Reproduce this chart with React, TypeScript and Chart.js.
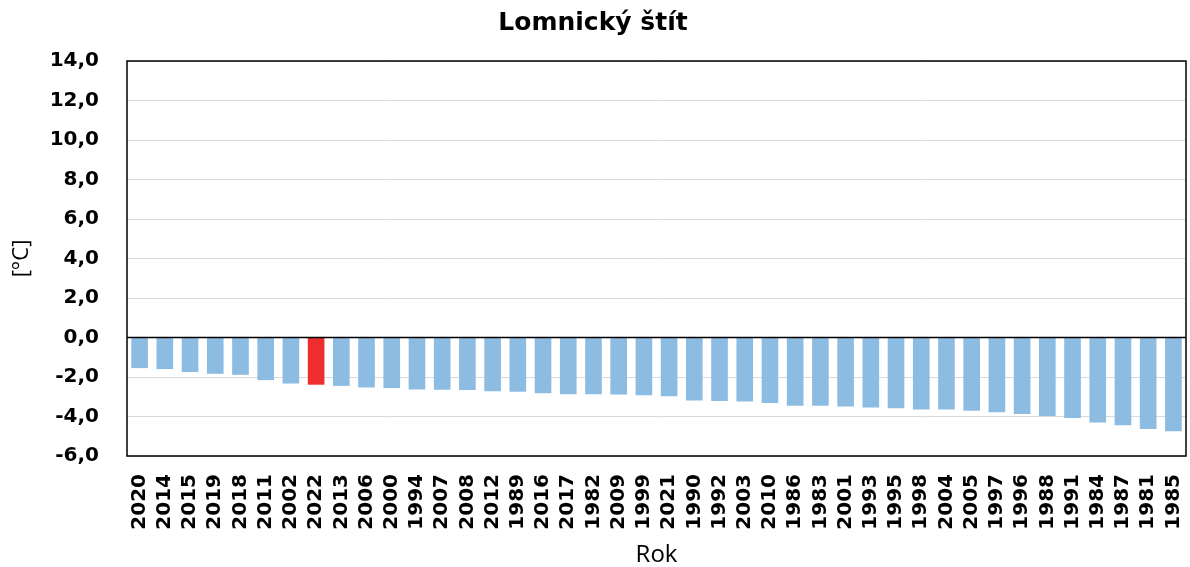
import React, { useEffect, useRef } from "react";
import { Chart, registerables } from "chart.js";

Chart.register(...registerables);

const chartTitle = "Lomnický štít";
const xAxisTitle = "Rok";
const yAxisTitle = "[°C]";

const years = [
  "2020", "2014", "2015", "2019", "2018", "2011", "2002", "2022", "2013", "2006",
  "2000", "1994", "2007", "2008", "2012", "1989", "2016", "2017", "1982", "2009",
  "1999", "2021", "1990", "1992", "2003", "2010", "1986", "1983", "2001", "1993",
  "1995", "1998", "2004", "2005", "1997", "1996", "1988", "1991", "1984", "1987",
  "1981", "1985",
];

const temperatures = [
  -1.55, -1.6, -1.75, -1.84, -1.89, -2.16, -2.33, -2.39, -2.45, -2.53,
  -2.56, -2.63, -2.65, -2.66, -2.72, -2.75, -2.82, -2.87, -2.87, -2.88,
  -2.92, -2.97, -3.19, -3.21, -3.24, -3.32, -3.46, -3.46, -3.49, -3.54,
  -3.58, -3.65, -3.65, -3.71, -3.78, -3.87, -3.98, -4.07, -4.31, -4.44,
  -4.63, -4.75,
];

const highlightYear = "2022";
const yMin = -6;
const yMax = 14;
const yStep = 2;

const BLUE = "#8DBCE3";
const RED = "#EE2E2E";

const framePlugin = {
  id: "frame",
  afterDatasetsDraw(chart: any) {
    const { ctx, chartArea, scales } = chart;
    ctx.save();
    const y0 = scales.y.getPixelForValue(0);
    ctx.strokeStyle = "#000";
    ctx.lineWidth = 1.5;
    ctx.beginPath();
    ctx.moveTo(chartArea.left, y0);
    ctx.lineTo(chartArea.right, y0);
    ctx.stroke();
    ctx.strokeRect(
      chartArea.left,
      chartArea.top,
      chartArea.right - chartArea.left,
      chartArea.bottom - chartArea.top
    );
    ctx.restore();
  },
};

export default function App() {
  const canvasRef = useRef<HTMLCanvasElement | null>(null);

  useEffect(() => {
    if (!canvasRef.current) return;
    const chart = new Chart(canvasRef.current, {
      type: "bar",
      data: {
        labels: years,
        datasets: [
          {
            data: temperatures,
            backgroundColor: years.map((y) => (y === highlightYear ? RED : BLUE)),
            borderWidth: 0,
            barPercentage: 0.66,
            categoryPercentage: 1,
          },
        ],
      },
      options: {
        animation: false,
        responsive: false,
        maintainAspectRatio: false,
        layout: { padding: { left: 0, right: 4, top: 0, bottom: 0 } },
        plugins: {
          legend: { display: false },
          tooltip: { enabled: false },
          title: {
            display: true,
            text: chartTitle,
            color: "#000",
            font: { family: "DejaVu Sans", size: 25, weight: "bold", lineHeight: 1.2 },
            padding: { top: 8, bottom: 23 },
          },
        },
        scales: {
          x: {
            grid: { display: false, drawTicks: false },
            border: { display: false },
            ticks: {
              autoSkip: false,
              maxRotation: 90,
              minRotation: 90,
              padding: 18,
              color: "#000",
              font: { family: "DejaVu Sans", size: 20, weight: "bold" },
            },
            title: {
              display: true,
              text: xAxisTitle,
              color: "#000",
              font: { family: "Open Sans", size: 24, lineHeight: 1 },
              padding: { top: 0, bottom: 0 },
            },
            afterFit(scale: any) {
              scale.height = 111;
              scale.paddingLeft = 0;
              scale.paddingRight = 0;
            },
          },
          y: {
            min: yMin,
            max: yMax,
            border: { display: false },
            grid: {
              drawTicks: false,
              color: "#D9D9D9",
              lineWidth: 1,
            },
            ticks: {
              stepSize: yStep,
              padding: 28,
              color: "#000",
              font: { family: "DejaVu Sans", size: 20, weight: "bold" },
              callback: (v: any) => Number(v).toFixed(1).replace(".", ","),
            },
            title: {
              display: true,
              text: yAxisTitle,
              color: "#000",
              font: { family: "Open Sans", size: 22, lineHeight: 1 },
              padding: { top: 11, bottom: 0 },
            },
            afterFit(scale: any) {
              scale.width = 127;
              scale.paddingTop = 0;
              scale.paddingBottom = 0;
            },
          },
        },
      },
      plugins: [framePlugin],
    });
    return () => chart.destroy();
  }, []);

  return (
    <div style={{ position: "absolute", left: 0, top: 0, width: 1190, height: 567, background: "#fff" }}>
      <canvas ref={canvasRef} width={1190} height={567} style={{ display: "block" }} />
    </div>
  );
}
